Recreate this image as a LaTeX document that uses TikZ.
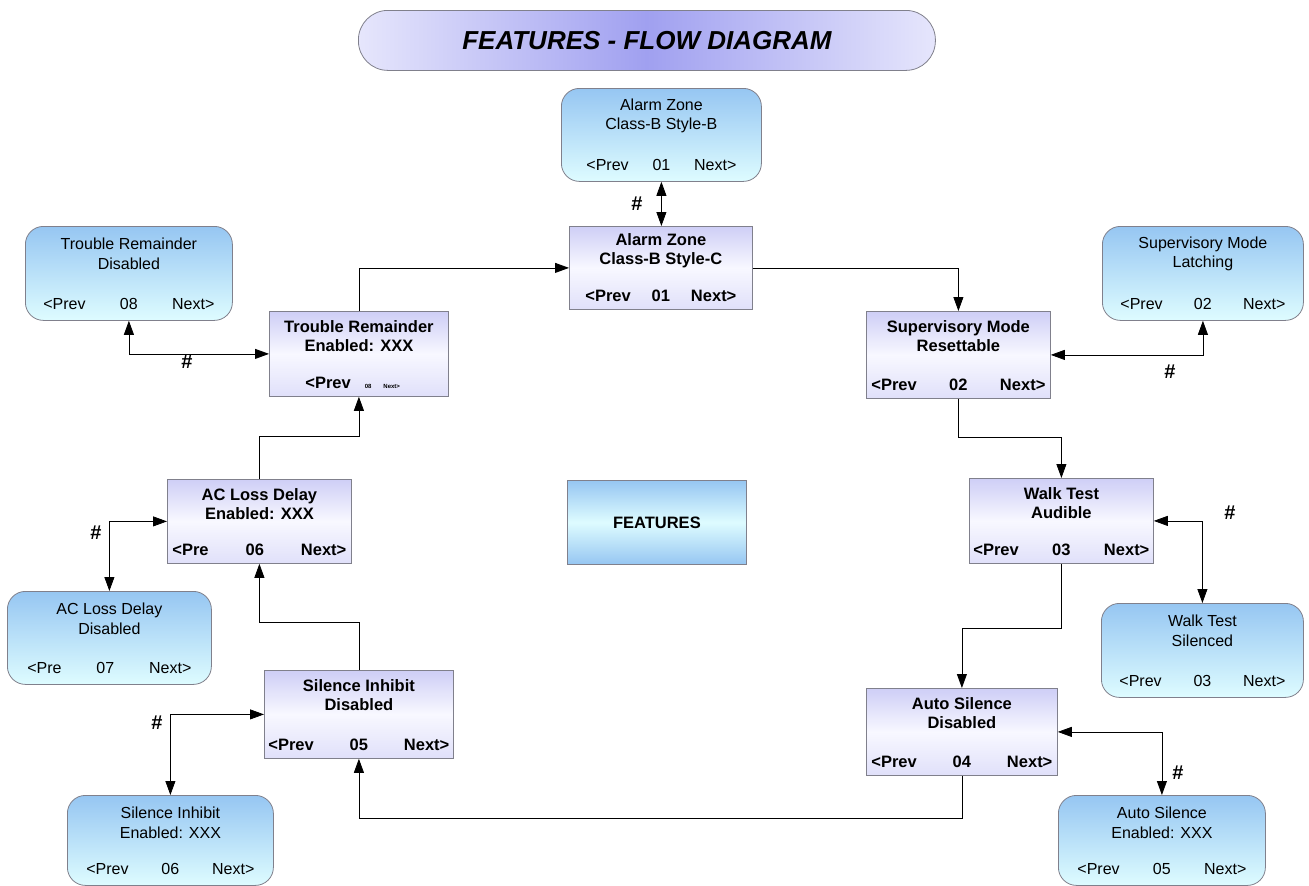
\documentclass[tikz,border=0pt]{standalone}
\usepackage{fontspec}
\setmainfont{Liberation Sans}
\usetikzlibrary{arrows.meta,calc}
\definecolor{rtop}{RGB}{150,198,242}
\definecolor{rbot}{RGB}{222,252,255}
\definecolor{stop}{RGB}{206,206,246}
\definecolor{smid}{RGB}{248,248,255}
\definecolor{sbot}{RGB}{224,224,250}
\definecolor{ttlmid}{RGB}{160,160,240}
\definecolor{ttlside}{RGB}{230,230,252}
\definecolor{bord}{RGB}{128,128,140}
\tikzset{
  rbox/.style={draw=bord, line width=0.8pt, rounded corners=18pt, top color=rtop, bottom color=rbot, inner sep=0pt},
  sbox/.style={draw=bord, line width=0.8pt, top color=stop, bottom color=sbot, middle color=smid, inner sep=0pt},
  fbox/.style={draw=bord, line width=0.8pt, top color=rtop, bottom color=rtop, middle color=rbot, inner sep=0pt},
  ttlbox/.style={draw=bord, line width=0.8pt, rounded corners=29.5pt, left color=ttlside, right color=ttlside, middle color=ttlmid, inner sep=0pt},
  rtxt/.style={font=\fontsize{16}{19.5}\selectfont, align=center, inner sep=0pt},
  stxt/.style={font=\fontsize{16.5}{19}\selectfont\bfseries, align=center, inner sep=0pt},
  hashlbl/.style={font=\fontsize{20}{22}\selectfont\bfseries, inner sep=0pt},
  conn/.style={line width=0.8pt, -{Triangle[length=14pt,width=10pt]}},
  dconn/.style={line width=0.8pt, {Triangle[length=14pt,width=10pt]}-{Triangle[length=14pt,width=10pt]}},
}
\newcommand\rscreen[8]{%
  \node[rbox, minimum width=#4-#2, minimum height=#5-#3, anchor=north west] (#1) at (#2,#3) {};
  \pgfmathsetmacro\bw{#4-#2-2*#6}%
  \node[rtxt] (#1-t) at ($(#1.north)+(0,28)$) {#7};
  \node[rtxt] (#1-b) at ($(#1.south)+(0,-17)$) {\makebox[\bw pt][s]{#8}};
}
\newcommand\sscreen[8]{%
  \node[sbox, minimum width=#4-#2, minimum height=#5-#3, anchor=north west] (#1) at (#2,#3) {};
  \pgfmathsetmacro\bw{#4-#2-2*#6}%
  \node[stxt] (#1-t) at ($(#1.north)+(0,25)$) {#7};
  \node[stxt] (#1-b) at ($(#1.south)+(0,-14)$) {\makebox[\bw pt][s]{#8}};
}
\begin{document}
\begin{tikzpicture}[x=1pt,y=-1pt]
\useasboundingbox (0,0) rectangle (1309,886);
% title
\node[ttlbox, minimum width=577, minimum height=60, anchor=north west, font=\fontsize{26}{30}\selectfont\bfseries\itshape] (title) at (358,10) {FEATURES - FLOW DIAGRAM};
% center
\node[fbox, minimum width=179, minimum height=84, anchor=north west, font=\fontsize{16.5}{19}\selectfont\bfseries] (feat) at (567,480) {FEATURES};
% screens
\rscreen{azb}{561}{88}{761}{181}{25}{Alarm Zone\\Class-B Style-B}{<Prev\hfill 01\hfill Next>}
\sscreen{azc}{569}{226}{752}{309}{16}{Alarm Zone\\Class-B Style-C}{<Prev\hfill 01\hfill Next>}
\rscreen{trd}{25}{226}{232}{320}{18}{Trouble Remainder\\Disabled}{<Prev\hfill 08\hfill Next>}
\sscreen{tre}{269}{311}{448}{396}{0}{Trouble Remainder\\Enabled: XXX}{\hspace*{36pt}<Prev\hspace{14pt}{\fontsize{6}{7}\selectfont 08\hspace{12pt}Next>}\hfill}
\sscreen{srs}{866}{311}{1050}{398}{5}{Supervisory Mode\\Resettable}{<Prev\hfill 02\hfill Next>}
\rscreen{sml}{1102}{226}{1303}{320}{18}{Supervisory Mode\\Latching}{<Prev\hfill 02\hfill Next>}
\sscreen{wta}{969}{478}{1153}{563}{4}{Walk Test\\Audible}{<Prev\hfill 03\hfill Next>}
\rscreen{wts}{1101}{603}{1303}{697}{18}{Walk Test\\Silenced}{<Prev\hfill 03\hfill Next>}
\sscreen{asd}{866}{688}{1057}{775}{5}{Auto Silence\\Disabled}{<Prev\hfill 04\hfill Next>}
\rscreen{ase}{1058}{795}{1265}{885}{19}{Auto Silence\\Enabled: XXX}{<Prev\hfill 05\hfill Next>}
\sscreen{sid}{264}{670}{453}{758}{4}{Silence Inhibit\\Disabled}{<Prev\hfill 05\hfill Next>}
\rscreen{sie}{67}{795}{273}{885}{19}{Silence Inhibit\\Enabled: XXX}{<Prev\hfill 06\hfill Next>}
\sscreen{acl}{167}{479}{351}{563}{5}{AC Loss Delay\\Enabled: XXX}{<Pre\hfill 06\hfill Next>}
\rscreen{acld}{7}{591}{211}{684}{20}{AC Loss Delay\\Disabled}{<Pre\hfill 07\hfill Next>}
% main flow
\draw[conn] (tre.north) |- (azc.west);
\draw[conn] (azc.east) -| (srs.north);
\draw[conn] (srs.south) -- ++(0,39) -| (wta.north);
\draw[conn] (wta.south) -- ++(0,65) -| (asd.north);
\draw[conn] (asd.south) -- ++(0,43) -| (sid.south);
\draw[conn] (sid.north) -- ++(0,-48) -| (acl.south);
\draw[conn] (acl.north) -- ++(0,-43) -| (tre.south);
% # links
\draw[dconn] (azb.south) -- (azb.south |- azc.north);
\draw[dconn] (trd.south) |- (tre.west);
\draw[dconn] (srs.east) -| (sml.south);
\draw[dconn] (wta.east) -| (wts.north);
\draw[dconn] (asd.east) -| (ase.north);
\draw[dconn] (sid.west) -| (sie.north);
\draw[dconn] (acl.west) -| (acld.north);
% # labels
\node[hashlbl] (h1) at (637,204) {\#};
\node[hashlbl] (h2) at (187,362) {\#};
\node[hashlbl] (h3) at (1170,372) {\#};
\node[hashlbl] (h4) at (1230,513) {\#};
\node[hashlbl] (h5) at (1178,773) {\#};
\node[hashlbl] (h6) at (157,723) {\#};
\node[hashlbl] (h7) at (96,533) {\#};
\end{tikzpicture}
\end{document}
